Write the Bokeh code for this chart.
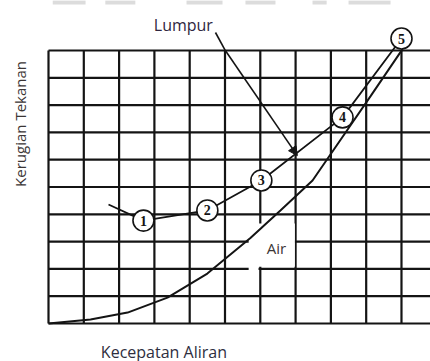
from bokeh.plotting import figure
from bokeh.models import Range1d, Arrow, NormalHead, ColumnDataSource
from bokeh.core.properties import value
from bokeh.embed import file_html
from bokeh.resources import INLINE

# ---- data (grid units: x = Kecepatan Aliran, y = Kerugian Tekanan) ----
grid_x = [0, 1, 2, 3, 4, 5, 6, 7, 8, 9, 10]
grid_y = [0, 1, 2, 3, 4, 5, 6, 7, 8, 9, 10]
grid_x_end = 10.85

lumpur_x = [1.70, 2.69, 4.50, 6.03, 8.33, 10.0]
lumpur_y = [4.36, 3.77, 4.14, 5.24, 7.55, 10.44]
marker_labels = ["1", "2", "3", "4", "5"]

air_x = [0.0, 1.19, 2.24, 3.37, 4.50, 5.72, 6.57, 7.48, 8.27, 9.12, 10.03]
air_y = [0.0, 0.15, 0.40, 0.95, 1.83, 3.13, 4.14, 5.24, 6.72, 8.32, 10.05]

arrow_path_x = [4.73, 5.01, 7.05]
arrow_path_y = [10.66, 10.0, 6.15]

x_label = "Kecepatan Aliran"
y_label = "Kerugian Tekanan"
lumpur_label = "Lumpur"
air_label = "Air"

# faint watermark fragments along the top edge (grid units)
wm_left = [0.12, 1.61, 3.91, 5.58, 7.48, 8.50]
wm_right = [1.05, 2.46, 4.93, 6.43, 7.88, 9.69]
wm_bottom = 11.69
wm_top = 11.84

p = figure(width=430, height=361, output_backend="svg", toolbar_location=None,
           x_range=Range1d(-1.360, 10.822), y_range=Range1d(-1.392, 11.832),
           min_border=0, x_axis_type=None, y_axis_type=None)
p.xgrid.visible = False
p.ygrid.visible = False
p.outline_line_color = None
p.background_fill_color = "white"
p.border_fill_color = "white"

ink = "#141414"
font = value("Open Sans")

# watermark fragments
p.quad(left=wm_left, right=wm_right, bottom=[wm_bottom] * len(wm_left), top=[wm_top] * len(wm_left),
       fill_color="#dcdcdc", line_color=None)

# grid
p.segment(x0=grid_x, y0=[grid_y[0]] * len(grid_x), x1=grid_x, y1=[grid_y[-1]] * len(grid_x),
          line_color=ink, line_width=2.2)
p.segment(x0=[grid_x[0]] * len(grid_y), y0=grid_y, x1=[grid_x_end] * len(grid_y), y1=grid_y,
          line_color=ink, line_width=2.2)

# white patch behind "Air" label
p.quad(left=[5.67, 5.67], right=[6.98, 5.95], bottom=[2.08, 1.90], top=[3.66, 2.12],
       fill_color="white", line_color=None)

# curves
p.line(air_x, air_y, line_color=ink, line_width=2.0)
p.line(lumpur_x, lumpur_y, line_color=ink, line_width=1.8)

# arrow from Lumpur label
p.line(arrow_path_x[:2], arrow_path_y[:2], line_color=ink, line_width=1.6)
p.add_layout(Arrow(x_start=arrow_path_x[1], y_start=arrow_path_y[1],
                   x_end=arrow_path_x[2], y_end=arrow_path_y[2],
                   line_color=ink, line_width=1.6,
                   end=NormalHead(size=9, fill_color=ink, line_color=ink)))

# numbered markers
src = ColumnDataSource(dict(x=lumpur_x[1:], y=lumpur_y[1:], t=marker_labels))
p.scatter("x", "y", source=src, size=21, fill_color="white", line_color=ink, line_width=1.6)
p.text("x", "y", text="t", source=src, text_align="center", text_baseline="middle",
       text_font=value("Liberation Serif"), text_font_style="bold", text_font_size="14px",
       text_color=ink)

# labels
p.text(x=[3.82], y=[10.92], text=[lumpur_label], text_align="center", text_baseline="alphabetic",
       text_font=font, text_font_size="16px", text_color="#2f2640")
p.text(x=[6.46], y=[2.75], text=[air_label], text_align="center", text_baseline="middle",
       text_font=font, text_font_size="15px", text_color="#3b3535")
p.text(x=[3.27], y=[-1.06], text=[x_label], text_align="center", text_baseline="middle",
       text_font=font, text_font_size="16px", text_color="#2e2e3e")
p.text(x=[-0.80], y=[7.31], text=[y_label], text_align="center", text_baseline="middle",
       angle=1.5708, text_font=font, text_font_size="15px", text_color="#3b3535")

open("out.html", "w").write(file_html(p, INLINE))
